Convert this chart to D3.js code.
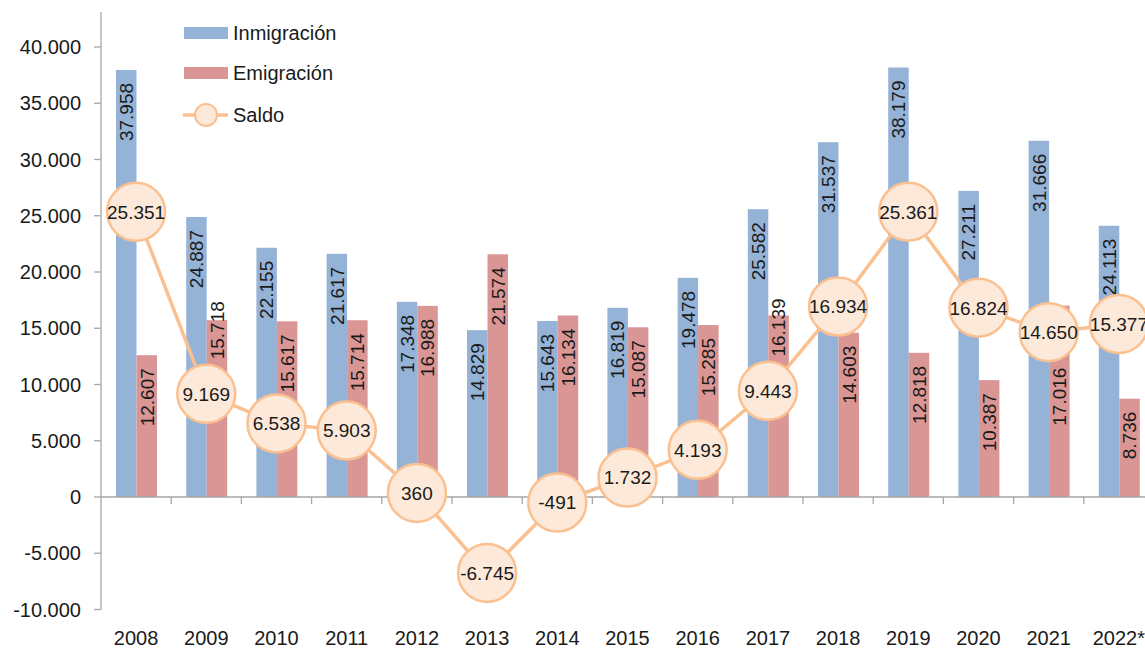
<!DOCTYPE html>
<meta charset="utf-8" />
<style>
  body { margin: 0; background: #fff; }
  text { font-family: "Liberation Sans", Arial, sans-serif; fill: #1a1a1a; }
</style>
<svg width="1145" height="649"></svg>
<script src="https://d3js.org/d3.v7.min.js"></script>
<script>
    var svg = d3.select("svg");

    // datos
    var years = ["2008", "2009", "2010", "2011", "2012", "2013", "2014", "2015",
                 "2016", "2017", "2018", "2019", "2020", "2021", "2022*"];
    var inmigracion = [37958, 24887, 22155, 21617, 17348, 14829, 15643, 16819,
                       19478, 25582, 31537, 38179, 27211, 31666, 24113];
    var emigracion = [12607, 15718, 15617, 15714, 16988, 21574, 16134, 15087,
                      15285, 16139, 14603, 12818, 10387, 17016, 8736];
    var saldo = [25351, 9169, 6538, 5903, 360, -6745, -491, 1732,
                 4193, 9443, 16934, 25361, 16824, 14650, 15377];
    var yTicks = [-10000, -5000, 0, 5000, 10000, 15000, 20000, 25000, 30000, 35000, 40000];

    // etiquetas movidas a mano para no tapar los circulos
    var emiLabelNudge = { "2009": -32, "2017": -30, "2021": 49 };

    var colInm = "#95b3d7", colEmi = "#d99694";
    var colLine = "#fac090", colFill = "#fde9d9";

    var es = d3.formatLocale({ decimal: ",", thousands: ".", grouping: [3], currency: ["", "€"], minus: "-" });
    var fmt = es.format(",d");

    var x0 = 101, step = 70.2;
    var x = d3.scaleBand().domain(years).range([x0, x0 + step * years.length]).padding(0);
    var y = d3.scaleLinear().domain([-10000, 40000]).range([609.5, 47]);
    var yTop = 12;

    var barW = 20.5, barOff = 15;

    // ejes
    svg.append("line")
        .attr("x1", x0).attr("x2", x0)
        .attr("y1", yTop).attr("y2", y(-10000))
        .attr("stroke", "#a6a6a6").attr("stroke-width", 1.3);

    var yAxis = svg.append("g");
    yAxis.selectAll("line").data(yTicks).enter().append("line")
        .attr("x1", x0 - 7).attr("x2", x0)
        .attr("y1", function(d) { return y(d); })
        .attr("y2", function(d) { return y(d); })
        .attr("stroke", "#a6a6a6").attr("stroke-width", 1.3);
    yAxis.selectAll("text").data(yTicks).enter().append("text")
        .attr("x", 81)
        .attr("y", function(d) { return y(d); })
        .attr("dy", "0.36em")
        .attr("text-anchor", "end")
        .attr("font-size", 20)
        .text(function(d) { return fmt(d); });

    var bars = svg.append("g");
    years.forEach(function(yr, i) {
        var bx = x(yr) + barOff;
        bars.append("rect")
            .attr("x", bx).attr("width", barW)
            .attr("y", y(inmigracion[i])).attr("height", y(0) - y(inmigracion[i]))
            .attr("fill", colInm);
        bars.append("rect")
            .attr("x", bx + barW).attr("width", barW)
            .attr("y", y(emigracion[i])).attr("height", y(0) - y(emigracion[i]))
            .attr("fill", colEmi);
    });

    svg.append("line")
        .attr("x1", x0).attr("x2", 1145)
        .attr("y1", y(0)).attr("y2", y(0))
        .attr("stroke", "#a6a6a6").attr("stroke-width", 1.3);
    svg.append("g").selectAll("line").data(years).enter().append("line")
        .attr("x1", function(d) { return x(d) + x.bandwidth(); })
        .attr("x2", function(d) { return x(d) + x.bandwidth(); })
        .attr("y1", y(0)).attr("y2", y(0) + 7)
        .attr("stroke", "#a6a6a6").attr("stroke-width", 1.3);

    svg.append("g").selectAll("text").data(years).enter().append("text")
        .attr("x", function(d) { return x(d) + x.bandwidth() / 2; })
        .attr("y", 645)
        .attr("text-anchor", "middle")
        .attr("font-size", 20)
        .text(function(d) { return d; });

    // etiquetas de barras
    var lab = svg.append("g");
    years.forEach(function(yr, i) {
        var bx = x(yr) + barOff;
        var ty = y(inmigracion[i]) + 13;
        lab.append("text")
            .attr("transform", "translate(" + (bx + barW / 2) + "," + ty + ") rotate(-90)")
            .attr("text-anchor", "end").attr("dy", "0.36em")
            .attr("font-size", 19)
            .text(fmt(inmigracion[i]));
        var ty2 = y(emigracion[i]) + 13 + (emiLabelNudge[yr] || 0);
        lab.append("text")
            .attr("transform", "translate(" + (bx + barW * 1.5) + "," + ty2 + ") rotate(-90)")
            .attr("text-anchor", "end").attr("dy", "0.36em")
            .attr("font-size", 19)
            .text(fmt(emigracion[i]));
    });

    // linea saldo
    var cx = function(d, i) { return x(years[i]) + x.bandwidth() / 2; };
    var line = d3.line()
        .x(function(d, i) { return cx(d, i); })
        .y(function(d) { return y(d); });
    svg.append("path")
        .datum(saldo)
        .attr("d", line)
        .attr("fill", "none")
        .attr("stroke", colLine)
        .attr("stroke-width", 3.5);

    var pts = svg.append("g").selectAll("g").data(saldo).enter().append("g")
        .attr("transform", function(d, i) { return "translate(" + cx(d, i) + "," + y(d) + ")"; });
    pts.append("circle")
        .attr("r", 29)
        .attr("fill", colFill)
        .attr("stroke", colLine)
        .attr("stroke-width", 2.5);
    pts.append("text")
        .attr("text-anchor", "middle")
        .attr("dy", "0.36em")
        .attr("font-size", 19)
        .text(function(d) { return fmt(d); });

    // leyenda
    var leg = svg.append("g");
    leg.append("rect").attr("x", 184).attr("y", 27).attr("width", 44).attr("height", 12).attr("fill", colInm);
    leg.append("text").attr("x", 233).attr("y", 33).attr("dy", "0.36em").attr("font-size", 20).text("Inmigración");
    leg.append("rect").attr("x", 184).attr("y", 67).attr("width", 44).attr("height", 12).attr("fill", colEmi);
    leg.append("text").attr("x", 233).attr("y", 73).attr("dy", "0.36em").attr("font-size", 20).text("Emigración");
    leg.append("line").attr("x1", 183).attr("x2", 228).attr("y1", 115).attr("y2", 115)
        .attr("stroke", colLine).attr("stroke-width", 3.5);
    leg.append("circle").attr("cx", 206).attr("cy", 115).attr("r", 11)
        .attr("fill", colFill).attr("stroke", colLine).attr("stroke-width", 2);
    leg.append("text").attr("x", 233).attr("y", 115).attr("dy", "0.36em").attr("font-size", 20).text("Saldo");
</script>
